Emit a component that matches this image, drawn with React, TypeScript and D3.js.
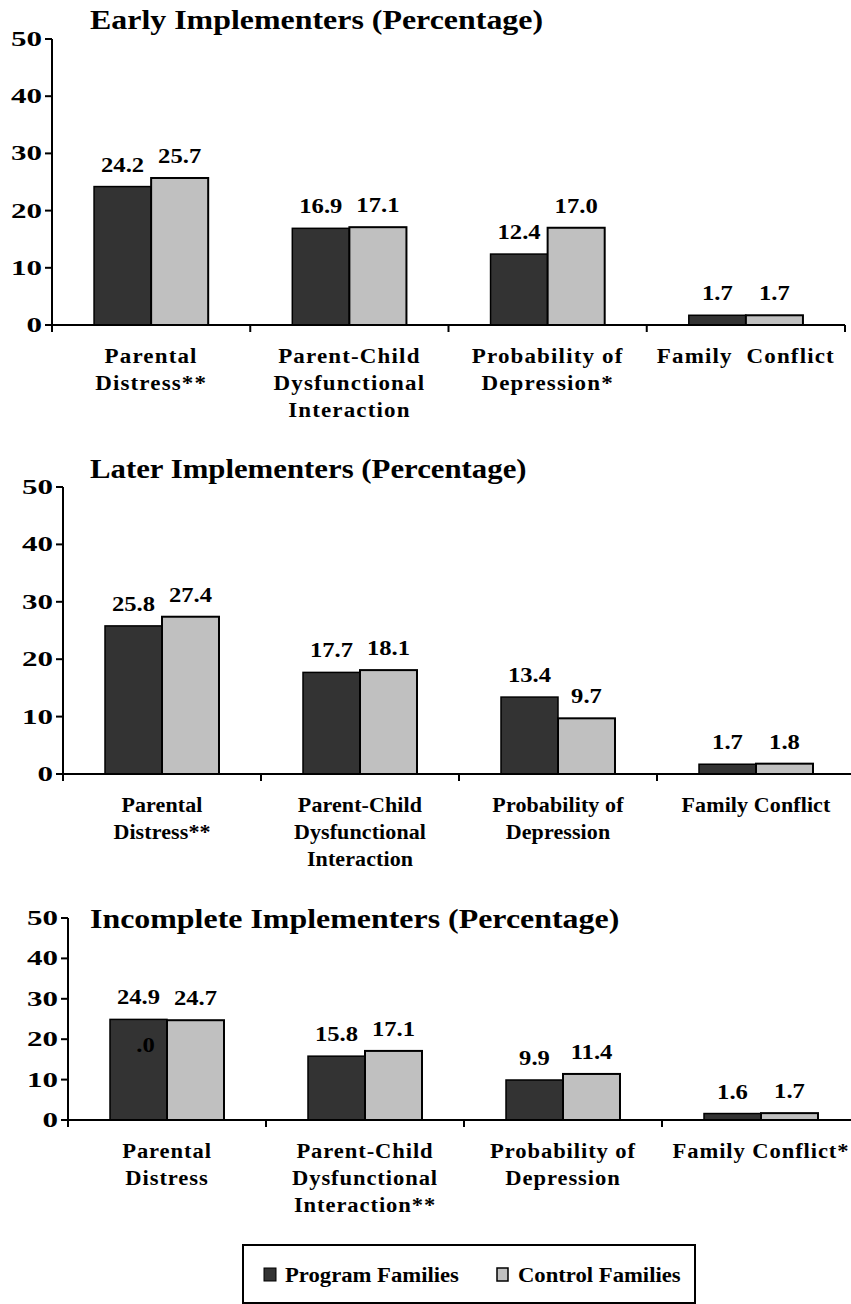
import React from "react";
import * as d3 from "d3";

// ---------- data ----------
const seriesNames = ["Program Families", "Control Families"];
const yTicks = [0, 10, 20, 30, 40, 50];

const earlyTitle = "Early Implementers (Percentage)";
const earlyCategories = [
  ["Parental", "Distress**"],
  ["Parent-Child", "Dysfunctional", "Interaction"],
  ["Probability of", "Depression*"],
  ["Family  Conflict"],
];
const earlyProgram = [24.2, 16.9, 12.4, 1.7];
const earlyControl = [25.7, 17.1, 17.0, 1.7];

const laterTitle = "Later Implementers (Percentage)";
const laterCategories = [
  ["Parental", "Distress**"],
  ["Parent-Child", "Dysfunctional", "Interaction"],
  ["Probability of", "Depression"],
  ["Family Conflict"],
];
const laterProgram = [25.8, 17.7, 13.4, 1.7];
const laterControl = [27.4, 18.1, 9.7, 1.8];

const incompleteTitle = "Incomplete Implementers (Percentage)";
const incompleteCategories = [
  ["Parental", "Distress"],
  ["Parent-Child", "Dysfunctional", "Interaction**"],
  ["Probability of", "Depression"],
  ["Family Conflict*"],
];
const incompleteProgram = [24.9, 15.8, 9.9, 1.6];
const incompleteControl = [24.7, 17.1, 11.4, 1.7];
// stray label visible inside the first Program bar of the third chart
const incompleteStrayLabel = { category: 0, value: 16.8, text: ".0" };

// ---------- styles ----------
const FONT = "'Liberation Serif', 'Times New Roman', serif";
const DARK = "#333333";
const LIGHT = "#c0c0c0";
const fmt = d3.format(".1f");

type Layout = {
  x0: number;
  x1: number;
  yTop: number;
  yBottom: number;
  titleX: number;
  titleY: number;
  titleScale: number;
  catScale: number;
  catSpacing: number;
};

function SText({ x, y, sx = 1, anchor = "middle", size, ls = 0, children }: any) {
  return (
    <text
      transform={`translate(${x},${y}) scale(${sx},1)`}
      textAnchor={anchor}
      fontFamily={FONT}
      fontWeight="bold"
      fontSize={size}
      letterSpacing={ls}
      style={{ whiteSpace: "pre" }}
      fill="#000"
    >
      {children}
    </text>
  );
}

function Panel({
  title,
  categories,
  program,
  control,
  layout,
  stray,
}: {
  title: string;
  categories: string[][];
  program: number[];
  control: number[];
  layout: Layout;
  stray?: { category: number; value: number; text: string };
}) {
  const { x0, x1, yTop, yBottom } = layout;
  const x = d3
    .scaleBand<number>()
    .domain(categories.map((_, i) => i))
    .range([x0, x1]);
  const inner = d3
    .scaleBand<string>()
    .domain(["p", "c"])
    .range([0, x.bandwidth()])
    .paddingInner(0)
    .paddingOuter(0.737);
  const y = d3.scaleLinear().domain([0, 50]).range([yBottom, yTop]);
  const clipRight = 851;
  const boundaries = d3
    .range(categories.length + 1)
    .map((i) => x0 + i * x.step())
    .filter((b) => b <= clipRight);

  return (
    <g>
      <SText x={layout.titleX} y={layout.titleY} sx={layout.titleScale} anchor="start" size={28}>
        {title}
      </SText>
      {categories.map((_, i) => {
        const bx = x(i)!;
        const pv = program[i];
        const cv = control[i];
        return (
          <g key={i}>
            <rect
              x={bx + inner("p")!}
              y={y(pv)}
              width={inner.bandwidth()}
              height={y(0) - y(pv)}
              fill={DARK}
              stroke="#000"
              strokeWidth={1.5}
            />
            <rect
              x={bx + inner("c")!}
              y={y(cv)}
              width={inner.bandwidth()}
              height={y(0) - y(cv)}
              fill={LIGHT}
              stroke="#000"
              strokeWidth={2}
            />
            <SText x={bx + inner("p")! + inner.bandwidth() / 2} y={y(pv) - 15} sx={1.12} size={22}>
              {fmt(pv)}
            </SText>
            <SText x={bx + inner("c")! + inner.bandwidth() / 2} y={y(cv) - 15} sx={1.12} size={22}>
              {fmt(cv)}
            </SText>
          </g>
        );
      })}
      {stray && (
        <SText
          x={x(stray.category)! + inner("p")! + inner.bandwidth() / 2 + 7}
          y={y(stray.value)}
          sx={1.12}
          size={22}
        >
          {stray.text}
        </SText>
      )}
      <line x1={x0} x2={x0} y1={yTop} y2={yBottom} stroke="#000" strokeWidth={2} />
      {yTicks.map((t) => (
        <g key={t}>
          <line x1={x0 - 7} x2={x0} y1={y(t)} y2={y(t)} stroke="#000" strokeWidth={2} />
          <SText x={x0 - 10} y={y(t) + 7} sx={1.55} anchor="end" size={20}>
            {t}
          </SText>
        </g>
      ))}
      <line x1={x0 - 7} x2={Math.min(x1, clipRight)} y1={yBottom} y2={yBottom} stroke="#000" strokeWidth={2} />
      {boundaries.map((b, i) => (
        <line key={i} x1={b} x2={b} y1={yBottom} y2={yBottom + 7} stroke="#000" strokeWidth={2} />
      ))}
      {categories.map((lines, i) =>
        lines.map((ln, j) => (
          <SText
            key={i + "-" + j}
            x={x(i)! + x.bandwidth() / 2}
            y={yBottom + 38 + j * 27}
            size={20}
            sx={layout.catScale}
            ls={layout.catSpacing}
          >
            {ln}
          </SText>
        ))
      )}
    </g>
  );
}

export default function App() {
  const layouts: Layout[] = [
    { x0: 52, x1: 845, yTop: 39, yBottom: 325, titleX: 90, titleY: 29, titleScale: 1.14, catScale: 1.15, catSpacing: 1 },
    { x0: 63, x1: 855, yTop: 487, yBottom: 774, titleX: 90, titleY: 478, titleScale: 1.1, catScale: 1.1, catSpacing: 0.1 },
    { x0: 68, x1: 860, yTop: 918, yBottom: 1120, titleX: 90, titleY: 928, titleScale: 1.14, catScale: 1.13, catSpacing: 0.8 },
  ];
  return (
    <svg width={851} height={1304} style={{ position: "absolute", left: 0, top: 0, background: "#fff" }}>
      <rect width={851} height={1304} fill="#fff" />
      <Panel title={earlyTitle} categories={earlyCategories} program={earlyProgram} control={earlyControl} layout={layouts[0]} />
      <Panel title={laterTitle} categories={laterCategories} program={laterProgram} control={laterControl} layout={layouts[1]} />
      <Panel
        title={incompleteTitle}
        categories={incompleteCategories}
        program={incompleteProgram}
        control={incompleteControl}
        layout={layouts[2]}
        stray={incompleteStrayLabel}
      />
      <g>
        <rect x={243} y={1245} width={452} height={58} fill="#fff" stroke="#000" strokeWidth={2} />
        <rect x={264} y={1268} width={12} height={13} fill={DARK} stroke="#000" strokeWidth={1} />
        <SText x={285} y={1282} sx={1.08} anchor="start" size={21}>
          {seriesNames[0]}
        </SText>
        <rect x={497} y={1268} width={11} height={13} fill={LIGHT} stroke="#000" strokeWidth={1.5} />
        <SText x={518} y={1282} sx={1.08} anchor="start" size={21}>
          {seriesNames[1]}
        </SText>
      </g>
    </svg>
  );
}
